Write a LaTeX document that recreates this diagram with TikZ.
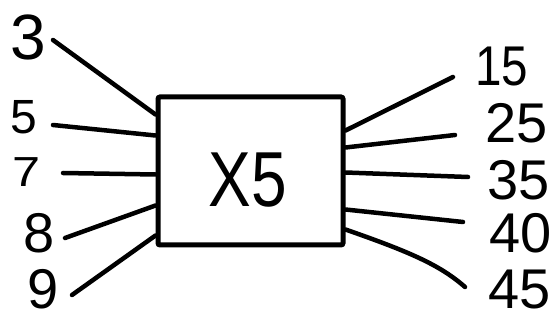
\documentclass[tikz,border=0pt]{standalone}
\usepackage{fontspec}
\setmainfont{Liberation Sans}
\begin{document}
\begin{tikzpicture}[x=1pt,y=-1pt,
  wire/.style={line width=4.5pt,line cap=round},
  num/.style={inner sep=0pt,font=\fontsize{56}{56}\selectfont},
  bignum/.style={inner sep=0pt,font=\fontsize{64}{64}\selectfont},
  block/.style={draw,line width=5pt,minimum width=185pt,minimum height=148pt,inner sep=0pt,rounded corners=2pt}]
\useasboundingbox[fill=white] (0,0) rectangle (559,320);
\node[block] (box) at (250.5,171) {};
\node[inner sep=0pt,font=\fontsize{78}{78}\selectfont,xscale=0.82] (t) at (248,180) {X5};
% left labels
\node[bignum] (n3) at (28,37) {3};
\node[inner sep=0pt,font=\fontsize{48}{48}\selectfont] (n5) at (24,117) {5};
\node[inner sep=0pt,font=\fontsize{42}{42}\selectfont,xscale=1.2] (n7) at (27,172) {7};
\node[num] (n8) at (39,233) {8};
\node[num] (n9) at (43,289) {9};
% right labels
\node[num,xscale=0.85] (n15) at (502,67) {15};
\node[num] (n25) at (517,123) {25};
\node[num] (n35) at (519,180) {35};
\node[num] (n40) at (521,233) {40};
\node[num] (n45) at (520,290) {45};
% free ends
\coordinate (a3) at (53,40);
\coordinate (a5) at (53,125);
\coordinate (a7) at (63,173);
\coordinate (a8) at (65,238);
\coordinate (a9) at (72,295);
\coordinate (b15) at (453,77);
\coordinate (b25) at (455,135);
\coordinate (b35) at (468,177);
\coordinate (b40) at (463,222);
\coordinate (b45) at (465,287);
% connectors
\draw[wire] (a3) -- ([yshift=-20pt]box.north west);
\draw[wire] (a5) -- ([yshift=-41pt]box.north west);
\draw[wire] (a7) -- ([yshift=-80pt]box.north west);
\draw[wire] (a8) -- ([yshift=-111pt]box.north west);
\draw[wire] (a9) -- ([yshift=-141pt]box.north west);
\draw[wire] ([yshift=-36pt]box.north east) -- (b15);
\draw[wire] ([yshift=-53pt]box.north east) -- (b25);
\draw[wire] ([yshift=-78pt]box.north east) -- (b35);
\draw[wire] ([yshift=-115pt]box.north east) -- (b40);
\draw[wire] ([yshift=-135pt]box.north east) .. controls (410,252) and (440,265) .. (b45);
\end{tikzpicture}
\end{document}
